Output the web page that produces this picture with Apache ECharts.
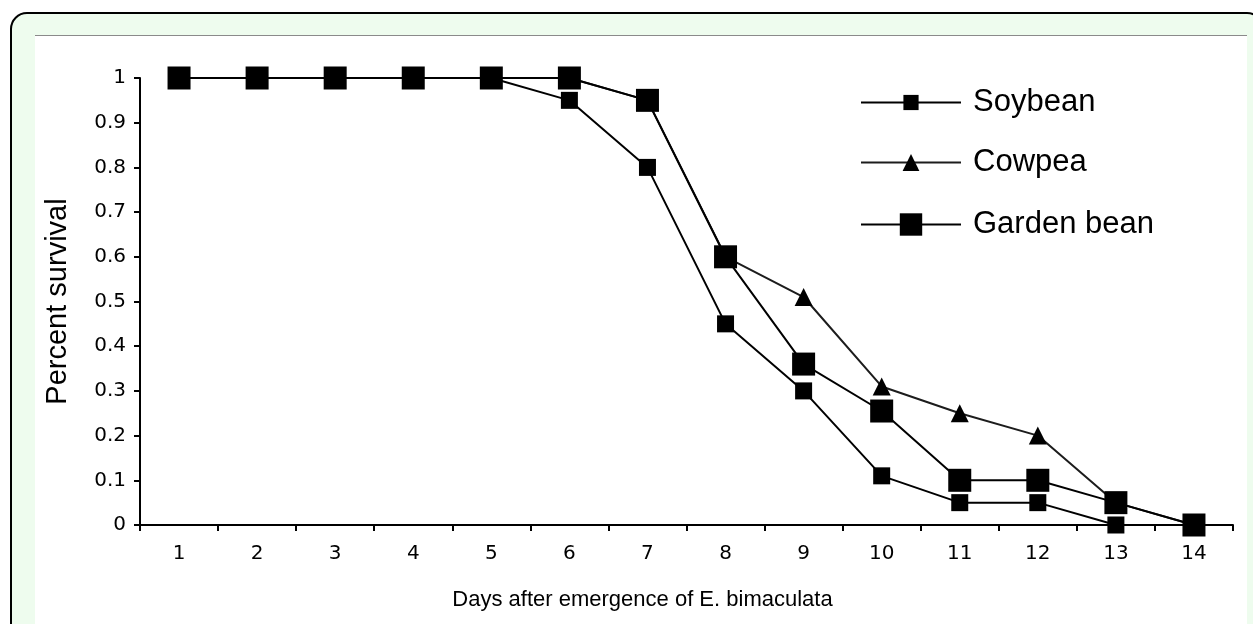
<!DOCTYPE html>
<html>
<head>
<meta charset="utf-8">
<script src="https://cdn.jsdelivr.net/npm/echarts@6/dist/echarts.min.js"></script>
<style>html,body{margin:0;padding:0;background:#fff;}#c{width:1253px;height:624px;}</style>
</head>
<body>
<div id="c"></div>
<script>
const days = ['1','2','3','4','5','6','7','8','9','10','11','12','13','14'];
const soybean = [1, 1, 1, 1, 1, 0.95, 0.80, 0.45, 0.30, 0.11, 0.05, 0.05, 0, 0];
const cowpea = [1, 1, 1, 1, 1, 1, 0.95, 0.60, 0.51, 0.31, 0.25, 0.20, 0.05, 0];
const gardenBean = [1, 1, 1, 1, 1, 1, 0.95, 0.60, 0.36, 0.255, 0.10, 0.10, 0.05, 0];
const xTitle = 'Days after emergence of E. bimaculata';
const yTitle = 'Percent survival';

const chart = echarts.init(document.getElementById('c'));
const legendText = {fontFamily: 'Liberation Sans', fontSize: 31, color: '#000', padding: [0, 0, 0, 7]};
chart.setOption({
  animation: false,
  backgroundColor: '#fff',
  graphic: [
    {type: 'rect', z: -10, silent: true, shape: {x: 11, y: 13, width: 1252, height: 700, r: 16},
     style: {fill: '#eefcee', stroke: '#000', lineWidth: 2}},
    {type: 'rect', z: -9, silent: true, shape: {x: 35, y: 35, width: 1212, height: 700},
     style: {fill: '#fff'}},
    {type: 'line', z: -8, silent: true, shape: {x1: 35, y1: 35.5, x2: 1247, y2: 35.5},
     style: {stroke: '#8a8a8a', lineWidth: 1}}
  ],
  grid: {left: 140, right: 20, top: 78, bottom: 99, containLabel: false},
  legend: [
    {data: ['Soybean'], left: 860, top: 87, padding: 0, itemWidth: 100, itemHeight: 19, textStyle: legendText},
    {data: ['Cowpea'], left: 860, top: 147, padding: 0, itemWidth: 100, itemHeight: 21, textStyle: legendText},
    {data: ['Garden bean'], left: 860, top: 209, padding: 0, itemWidth: 100, itemHeight: 28, textStyle: legendText}
  ],
  xAxis: {
    type: 'category',
    data: days,
    boundaryGap: true,
    name: xTitle,
    nameLocation: 'middle',
    nameGap: 64,
    nameTextStyle: {fontFamily: 'Liberation Sans', fontSize: 22, color: '#000', padding: [0, 88, 0, 0]},
    axisLine: {lineStyle: {color: '#000', width: 2}},
    axisTick: {show: true, length: 6, lineStyle: {color: '#000', width: 2}},
    axisLabel: {fontFamily: 'DejaVu Sans', fontSize: 20, color: '#000', margin: 19},
    splitLine: {show: false}
  },
  yAxis: {
    type: 'value',
    min: 0, max: 1, interval: 0.1,
    name: yTitle,
    nameLocation: 'middle',
    nameGap: 68,
    nameTextStyle: {fontFamily: 'Liberation Sans', fontSize: 29, color: '#000'},
    axisLine: {show: true, lineStyle: {color: '#000', width: 2}},
    axisTick: {show: true, length: 6, lineStyle: {color: '#000', width: 2}},
    axisLabel: {fontFamily: 'DejaVu Sans', fontSize: 20, color: '#000', margin: 14},
    splitLine: {show: false}
  },
  series: [
    {name: 'Soybean', type: 'line', data: soybean, symbol: 'rect', symbolSize: 17,
     lineStyle: {color: '#000', width: 2}, itemStyle: {color: '#000'}, z: 3},
    {name: 'Cowpea', type: 'line', data: cowpea, symbol: 'triangle', symbolSize: 18,
     lineStyle: {color: '#1c1c1c', width: 2}, itemStyle: {color: '#000'}, z: 2},
    {name: 'Garden bean', type: 'line', data: gardenBean, symbol: 'rect', symbolSize: 23,
     lineStyle: {color: '#000', width: 2}, itemStyle: {color: '#000'}, z: 4}
  ]
});
</script>
</body>
</html>
